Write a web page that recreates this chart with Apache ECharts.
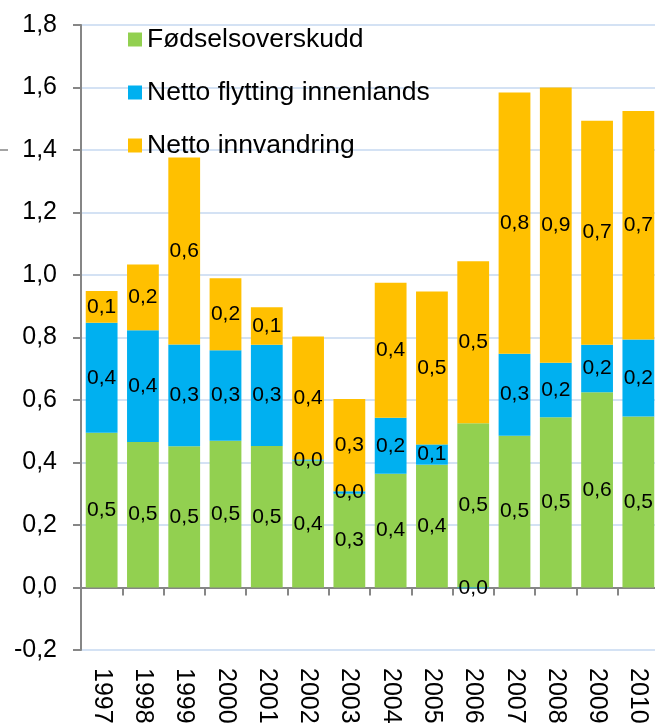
<!DOCTYPE html>
<html>
<head>
<meta charset="utf-8">
<script src="https://cdn.jsdelivr.net/npm/echarts@6/dist/echarts.min.js"></script>
<style>html,body{margin:0;padding:0;background:#fff}#c{width:655px;height:726px}</style>
</head>
<body>
<div id="c"></div>
<script>
var years = ['1997','1998','1999','2000','2001','2002','2003','2004','2005','2006','2007','2008','2009','2010'];
var seriesNames = ['Fødselsoverskudd','Netto flytting innenlands','Netto innvandring'];
var fodsel = [0.495, 0.466, 0.452, 0.470, 0.453, 0.406, 0.300, 0.364, 0.393, 0.526, 0.486, 0.545, 0.625, 0.547];
var flytting = [0.352, 0.357, 0.326, 0.289, 0.324, 0.004, 0.008, 0.179, 0.065, -0.002, 0.262, 0.174, 0.152, 0.247];
var innvandring = [0.102, 0.211, 0.598, 0.231, 0.120, 0.393, 0.295, 0.432, 0.489, 0.518, 0.836, 0.881, 0.717, 0.731];
var yMin = -0.2, yMax = 1.8, yStep = 0.2;

var FONT = "'Liberation Sans', Arial, sans-serif";
function fmt(v) {
  if (Math.abs(v) < 0.05) return '0,0';
  return (Math.round(v * 10) / 10).toFixed(1).replace('.', ',');
}
function mk(name, data, color) {
  return {
    name: name, type: 'bar', stack: 'total', data: data,
    barCategoryGap: '23%',
    itemStyle: { color: color },
    label: {
      show: true, position: 'inside', color: '#000',
      fontFamily: FONT, fontSize: 21,
      formatter: function (p) { return fmt(p.value); }
    }
  };
}
var chart = echarts.init(document.getElementById('c'));
chart.setOption({
  animation: false,
  backgroundColor: '#fff',
  grid: { left: 81, right: -4, top: 25, bottom: 76, containLabel: false, outerBoundsMode: 'none' },
  legend: {
    orient: 'vertical', left: 128, top: 26, padding: 0,
    itemWidth: 14, itemHeight: 14, itemGap: 26, icon: 'rect',
    textStyle: { fontFamily: FONT, fontSize: 26.5, color: '#000' },
    data: seriesNames
  },
  xAxis: {
    type: 'category', data: years,
    axisLine: { show: true, onZero: true, lineStyle: { color: '#868686', width: 2 } },
    axisTick: { show: true, length: 8, lineStyle: { color: '#868686', width: 2 } },
    axisLabel: { rotate: -90, margin: 18, color: '#000', fontFamily: FONT, fontSize: 25 },
    splitLine: { show: false }
  },
  yAxis: {
    type: 'value', min: yMin, max: yMax, interval: yStep,
    axisLine: { show: true, lineStyle: { color: '#868686', width: 2 } },
    axisTick: { show: true, length: 8, lineStyle: { color: '#868686', width: 2 } },
    axisLabel: { margin: 24, color: '#000', fontFamily: FONT, fontSize: 25,
      formatter: function (v) { return fmt(v); } },
    splitLine: { show: true, lineStyle: { color: '#c6d9f0', width: 1.5 } }
  },
  graphic: [{
    type: 'line', shape: { x1: 0, y1: 150, x2: 8, y2: 150 },
    style: { stroke: '#868686', lineWidth: 1.5 }
  }],
  series: [
    mk(seriesNames[0], fodsel, '#92d050'),
    mk(seriesNames[1], flytting, '#00b0f0'),
    mk(seriesNames[2], innvandring, '#ffc000')
  ]
});
</script>
</body>
</html>
